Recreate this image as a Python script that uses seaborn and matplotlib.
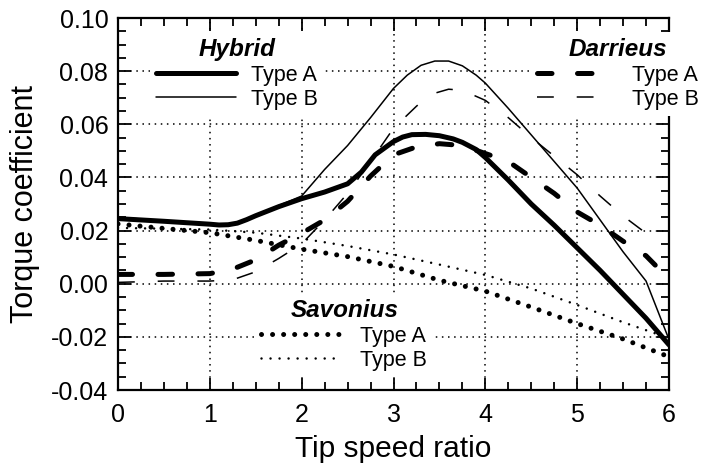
import matplotlib
matplotlib.use("Agg")
import matplotlib.pyplot as plt
import seaborn as sns

# ---------------- data ----------------
hyb_a_x = [0, 0.5, 1.0, 1.1, 1.2, 1.3, 1.4, 1.5, 1.75, 2.0, 2.25, 2.5, 2.65, 2.8, 3.0, 3.1,
           3.2, 3.35, 3.5, 3.65, 3.75, 3.9, 4.0, 4.25, 4.5, 4.75, 5.0, 5.25, 5.5, 5.75, 6.0]
hyb_a_y = [0.0245, 0.0235, 0.0224, 0.0221, 0.0222, 0.0228, 0.0241, 0.0256, 0.029, 0.032,
           0.0345, 0.0376, 0.042, 0.0485, 0.0535, 0.0552, 0.0561, 0.0562, 0.0557, 0.0545,
           0.0532, 0.0505, 0.0475, 0.039, 0.030, 0.022, 0.0135, 0.005, -0.004, -0.013, -0.023]

hyb_b_x = [0, 0.5, 1.0, 1.1, 1.2, 1.3, 1.4, 1.5, 2.0, 2.25, 2.5, 2.75, 3.0, 3.15, 3.3, 3.45,
           3.6, 3.75, 3.9, 4.0, 4.25, 4.5, 4.75, 5.0, 5.25, 5.5, 5.75, 6.0]
hyb_b_y = [0.025, 0.0237, 0.0226, 0.0223, 0.0223, 0.0229, 0.0243, 0.0258, 0.033, 0.043, 0.052,
           0.0625, 0.0735, 0.0785, 0.0822, 0.0838, 0.0838, 0.082, 0.0785, 0.0755, 0.066,
           0.056, 0.046, 0.036, 0.024, 0.012, 0.001, -0.021]

dar_a_x = [0, 0.5, 1.0, 1.25, 1.5, 1.75, 2.0, 2.25, 2.5, 2.75, 3.0, 3.25, 3.5, 3.75, 4.0,
           4.25, 4.5, 4.75, 5.0, 5.25, 5.5, 5.75, 5.85]
dar_a_y = [0.0035, 0.0035, 0.0038, 0.0055, 0.009, 0.0145, 0.019, 0.024, 0.031, 0.0405, 0.0485,
           0.0515, 0.0527, 0.052, 0.049, 0.046, 0.040, 0.034, 0.027, 0.022, 0.016, 0.0105, 0.007]

dar_b_x = [0, 0.5, 1.0, 1.25, 1.5, 1.75, 2.0, 2.25, 2.5, 2.75, 3.0, 3.25, 3.4, 3.6, 3.75, 4.0,
           4.25, 4.5, 4.75, 5.0, 5.25, 5.5, 5.75]
dar_b_y = [0.0005, 0.001, 0.001, 0.0015, 0.0045, 0.0095, 0.015, 0.024, 0.034, 0.046, 0.0585,
           0.0668, 0.0712, 0.0732, 0.0728, 0.069, 0.0625, 0.055, 0.048, 0.041, 0.033, 0.0255,
           0.019]

sav_a_x = [0, 0.5, 1.0, 1.5, 2.0, 2.5, 3.0, 3.5, 4.0, 4.5, 5.0, 5.5, 6.0]
sav_a_y = [0.0225, 0.0208, 0.0192, 0.0163, 0.013, 0.0102, 0.0065, 0.0013, -0.0028, -0.0088,
           -0.015, -0.0208, -0.0275]

sav_b_x = [0, 0.5, 1.0, 1.5, 2.0, 2.5, 3.0, 3.5, 4.0, 4.5, 5.0, 5.5, 6.0]
sav_b_y = [0.021, 0.0207, 0.0204, 0.0192, 0.017, 0.0142, 0.011, 0.0072, 0.0033, -0.0018,
           -0.008, -0.0145, -0.0205]

type_labels = ["Type A", "Type B"]
group_titles = ["Hybrid", "Darrieus", "Savonius"]
x_ticks = [0, 1, 2, 3, 4, 5, 6]
y_ticks = [-0.04, -0.02, 0.00, 0.02, 0.04, 0.06, 0.08, 0.10]

# ---------------- style ----------------
sns.set_style("ticks")
plt.rcParams["font.family"] = ["Liberation Sans", "DejaVu Sans"]
K = "black"
plt.rcParams.update({"text.color": K, "axes.labelcolor": K, "xtick.color": K,
                     "ytick.color": K, "axes.edgecolor": K})

fig = plt.figure(figsize=(7.05, 4.72), dpi=100)
ax = fig.add_axes([118 / 705, 1 - 390 / 472, (669 - 118) / 705, (390 - 18) / 472])

thick, thin = 3.6, 1.1

sns.lineplot(x=hyb_a_x, y=hyb_a_y, ax=ax, color=K, lw=thick, solid_capstyle="round",
             solid_joinstyle="round", legend=False)
h_ha = ax.get_lines()[-1]
sns.lineplot(x=hyb_b_x, y=hyb_b_y, ax=ax, color=K, lw=thin, legend=False)
h_hb = ax.get_lines()[-1]
sns.lineplot(x=dar_a_x, y=dar_a_y, ax=ax, color=K, lw=thick, linestyle=(0, (2.9, 5.1)),
             dash_capstyle="round", legend=False)
h_da = ax.get_lines()[-1]
sns.lineplot(x=dar_b_x, y=dar_b_y, ax=ax, color=K, lw=thin, linestyle=(0, (11, 15)),
             legend=False)
h_db = ax.get_lines()[-1]
sns.lineplot(x=sav_a_x, y=sav_a_y, ax=ax, color=K, lw=3.6, linestyle=(0, (0.01, 2.2)),
             dash_capstyle="round", legend=False)
h_sa = ax.get_lines()[-1]
sns.lineplot(x=sav_b_x, y=sav_b_y, ax=ax, color=K, lw=1.8, linestyle=(0, (0.01, 3.6)),
             dash_capstyle="round", legend=False)
h_sb = ax.get_lines()[-1]

# axes
ax.set_xlim(0, 6)
ax.set_ylim(-0.04, 0.10)
ax.set_xticks(x_ticks)
ax.set_yticks(y_ticks)
ax.set_xticklabels([str(t) for t in x_ticks])
ax.set_yticklabels([f"{t:.2f}" for t in y_ticks])
ax.xaxis.set_minor_locator(matplotlib.ticker.MultipleLocator(0.25))
ax.yaxis.set_minor_locator(matplotlib.ticker.MultipleLocator(0.005))
ax.tick_params(which="both", direction="in", top=True, right=True, color=K, width=1.3)
ax.tick_params(which="major", length=9)
ax.tick_params(which="minor", length=5.5)
ax.tick_params(axis="x", which="major", labelsize=18, pad=9, labelcolor=K)
ax.tick_params(axis="y", which="major", labelsize=18, pad=7, labelcolor=K)
for s in ax.spines.values():
    s.set_linewidth(1.6)
    s.set_color(K)
ax.grid(True, which="major", color=K, linestyle=(0, (1, 3)), linewidth=1.1)
ax.set_xlabel("Tip speed ratio", fontsize=21.5, labelpad=6, color=K)
ax.set_ylabel("Torque coefficient", fontsize=22, labelpad=8, color=K)

# legends
def make_legend(handles, title, anchor, loc, hl, htp):
    leg = ax.legend(handles=handles, labels=type_labels, title=title, loc=loc,
                    bbox_to_anchor=anchor, bbox_transform=fig.transFigure,
                    fontsize=15.5, frameon=True, fancybox=False, framealpha=1,
                    facecolor="white", edgecolor="none", handlelength=hl,
                    handletextpad=htp, labelspacing=0.15, borderpad=0.3,
                    borderaxespad=0, labelcolor=K)
    t = leg.get_title()
    t.set_fontsize(17.5)
    t.set_fontweight("bold")
    t.set_fontstyle("italic")
    t.set_color(K)
    leg.set_zorder(10)
    ax.add_artist(leg)
    return leg

make_legend([h_ha, h_hb], group_titles[0], (150 / 705, 1 - 32 / 472), "upper left", 3.7, 0.7)
make_legend([h_da, h_db], group_titles[1], (705 / 705, 1 - 32 / 472), "upper right", 2.8, 1.6)
make_legend([h_sa, h_sb], group_titles[2], (255 / 705, 1 - 293 / 472), "upper left", 3.7, 0.9)

fig.savefig("out.png", dpi=100)
